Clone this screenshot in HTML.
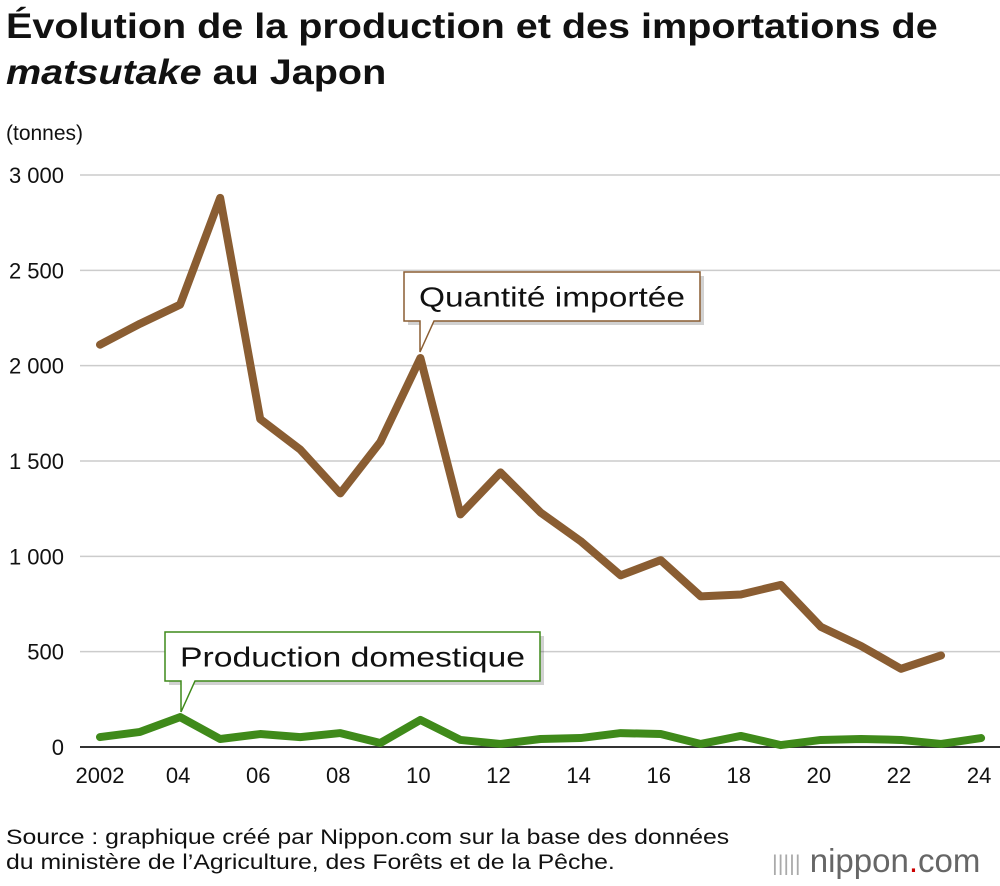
<!DOCTYPE html>
<html><head><meta charset="utf-8"><style>
body{margin:0;width:1000px;height:886px;background:#fff;font-family:"Liberation Sans",Arial,sans-serif;overflow:hidden;position:relative}
.t{position:absolute;left:6px;top:4px;font-size:35px;font-weight:bold;line-height:46px;color:#111;transform:scaleX(1.13);transform-origin:0 0;white-space:nowrap}
.src{position:absolute;left:6px;top:825px;font-size:21px;line-height:25px;color:#111;transform:scaleX(1.18);transform-origin:0 0;white-space:nowrap}
.logo{position:absolute;left:772px;top:842px;font-size:33px;color:#666;white-space:nowrap}
</style></head><body>
<div class="t">Évolution de la production et des importations de<br><i>matsutake</i> au Japon</div>
<svg id="c" width="1000" height="886" style="position:absolute;left:0;top:0"></svg>
<div class="src">Source : graphique créé par Nippon.com sur la base des données<br>du ministère de l’Agriculture, des Forêts et de la Pêche.</div>
<div class="logo"><span style="color:#aaa;font-size:22px;vertical-align:middle">|||||</span> nippon<span style="color:#c00">.</span>com</div>
<script>
const years=[2002,2003,2004,2005,2006,2007,2008,2009,2010,2011,2012,2013,2014,2015,2016,2017,2018,2019,2020,2021,2022,2023,2024];
const imports=[2110,2220,2320,2880,1720,1560,1330,1600,2040,1220,1440,1230,1080,900,980,790,800,850,630,530,410,480,null];
const domestic=[52,79,157,42,68,52,73,21,142,37,16,42,47,73,68,16,58,10,37,42,37,16,47];
const yTicks=[0,500,1000,1500,2000,2500,3000];
const yTickLabels=["0","500","1 000","1 500","2 000","2 500","3 000"];
const xTickYears=[2002,2004,2006,2008,2010,2012,2014,2016,2018,2020,2022,2024];
const xTickLabels=["2002","04","06","08","10","12","14","16","18","20","22","24"];
const ns="http://www.w3.org/2000/svg",svg=document.getElementById('c');
const X=y=>100+(y-2002)*40.05, Y=v=>747-v*0.19067;
function mk(t,a){const e=document.createElementNS(ns,t);for(const k in a)e.setAttribute(k,a[k]);svg.appendChild(e);return e;}
let u=mk('text',{x:6,y:140,'font-size':21,fill:'#111'});u.textContent='(tonnes)';


yTicks.forEach((v,i)=>{
 const l=mk('line',{x1:80,x2:1000,y1:Y(v),y2:Y(v),stroke:v?'#ccc':'#333','stroke-width':v?1.5:2});
 
 
 const t=mk('text',{x:64,y:Y(v)+8,'text-anchor':'end','font-size':22,fill:'#111'});t.textContent=yTickLabels[i];
 
 
});
xTickYears.forEach((y,i)=>{
 const t=mk('text',{x:X(y)+(i==0?0:-2),y:783,'text-anchor':'middle','font-size':22,fill:'#111'});t.textContent=xTickLabels[i];
 
 
});
function line(vals,col,name){
 let d='';vals.forEach((v,i)=>{if(v==null)return;d+=(d?'L':'M')+X(years[i])+','+Y(v);});
 const p=mk('path',{d:d,fill:'none',stroke:col,'stroke-width':8,'stroke-linejoin':'round','stroke-linecap':'round'});
 
 
}
line(imports,'#8a5d32','imports-line');
line(domestic,'#3f8a1a','domestic-line');
function callout(x,y,w,h,px,py,col,txt,tl,name){
 const g=document.createElementNS(ns,'g');svg.appendChild(g);
 
 
 const s=document.createElementNS(ns,'rect');
 [['x',x+4],['y',y+4],['width',w],['height',h],['fill','rgba(0,0,0,0.18)']].forEach(a=>s.setAttribute(a[0],a[1]));g.appendChild(s);
 const p=document.createElementNS(ns,'path');
 p.setAttribute('d',`M${x},${y}H${x+w}V${y+h}H${px+14}L${px},${py}V${y+h}H${x}Z`);
 p.setAttribute('fill','#fff');p.setAttribute('stroke',col);p.setAttribute('stroke-width',1.5);g.appendChild(p);
 const t=document.createElementNS(ns,'text');t.setAttribute('x',x+w/2);t.setAttribute('y',y+h/2+10);
 t.setAttribute('text-anchor','middle');t.setAttribute('font-size',28);t.setAttribute('fill','#111');
 t.setAttribute('textLength',tl);t.setAttribute('lengthAdjust','spacingAndGlyphs');t.textContent=txt;g.appendChild(t);
}
callout(404,272,296,49,420,352,'#8a5d32','Quantité importée',266,'imports-callout');
callout(165,632,375,49,181,712,'#3f8a1a','Production domestique',345,'domestic-callout');
</script>
</body></html>
